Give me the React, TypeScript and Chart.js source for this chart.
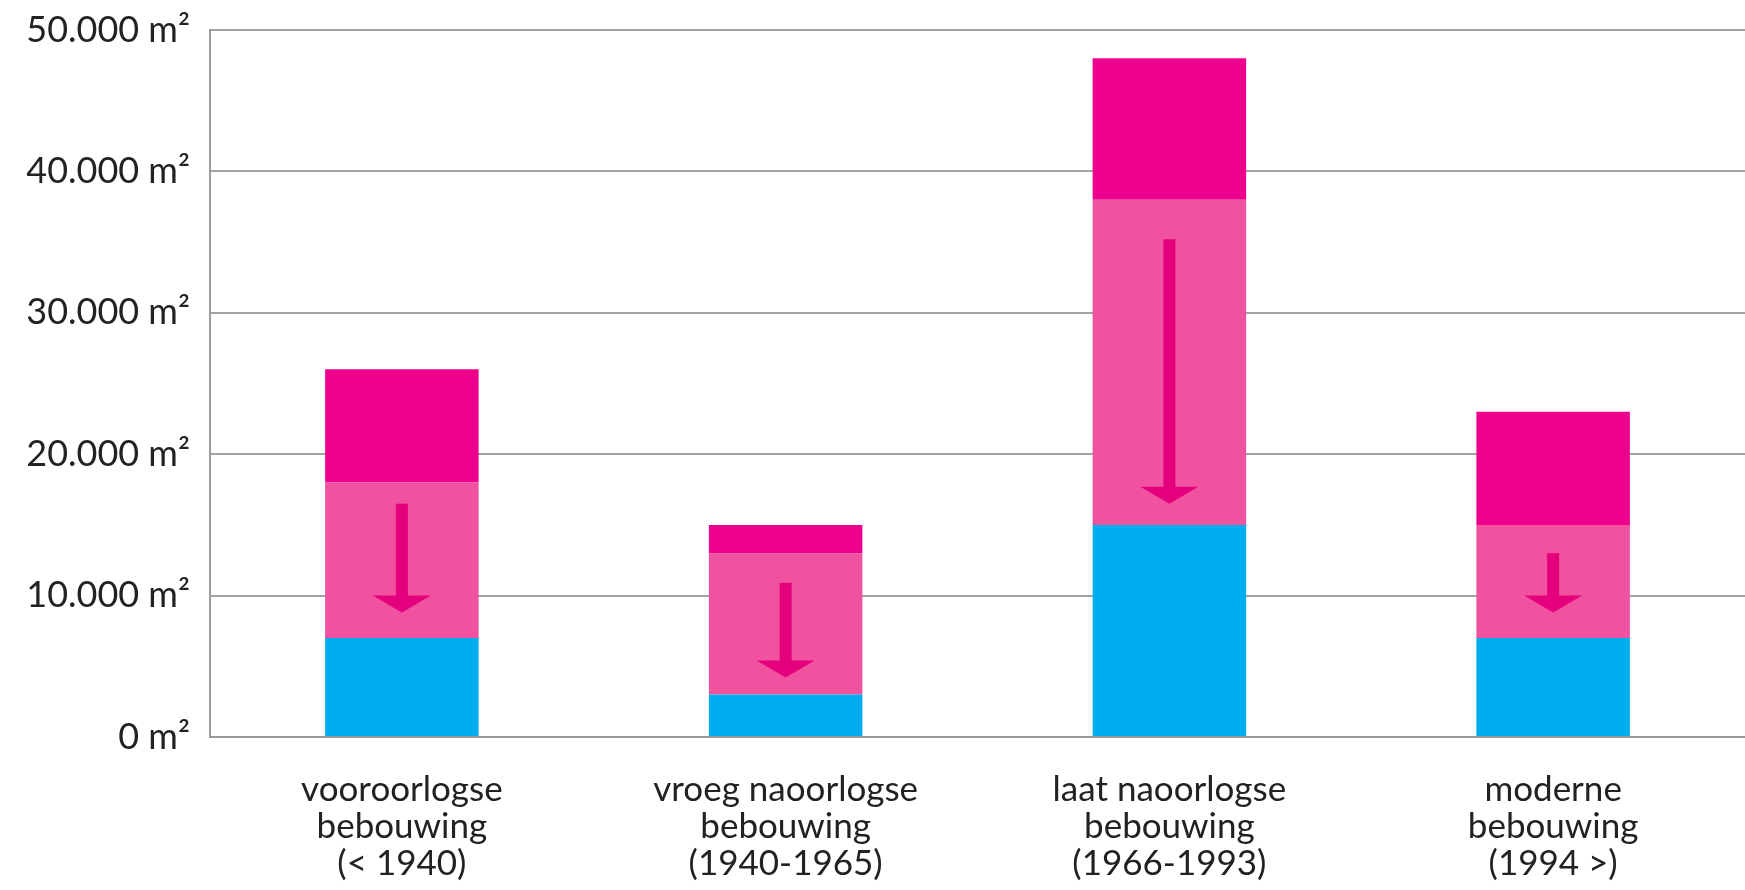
import React, { useEffect, useRef } from "react";
import { Chart, registerables } from "chart.js";

Chart.register(...registerables);

const categories: string[][] = [
  ["vooroorlogse", "bebouwing", "(< 1940)"],
  ["vroeg naoorlogse", "bebouwing", "(1940-1965)"],
  ["laat naoorlogse", "bebouwing", "(1966-1993)"],
  ["moderne", "bebouwing", "(1994 >)"],
];

const blueValues = [7000, 3000, 15000, 7000];
const pinkValues = [11000, 10000, 23000, 8000];
const magentaValues = [8000, 2000, 10000, 8000];

const arrowFrom = [16500, 10900, 35200, 13000];
const arrowTo = [8800, 4200, 16500, 8800];

const yMax = 50000;
const yStep = 10000;

const FONT = "Lato, 'Open Sans', sans-serif";

function formatTick(v: number): string {
  const s = Math.round(v).toString().replace(/\B(?=(\d{3})+(?!\d))/g, ".");
  return s + " m\u00B2";
}

const arrowPlugin = {
  id: "arrows",
  afterDatasetsDraw(chart: any) {
    const ctx = chart.ctx;
    const xs = chart.scales.x;
    const ys = chart.scales.y;
    ctx.save();
    ctx.fillStyle = "#E4007C";
    for (let i = 0; i < arrowFrom.length; i++) {
      const cx = xs.getPixelForValue(i);
      const yTop = ys.getPixelForValue(arrowFrom[i]);
      const yTip = ys.getPixelForValue(arrowTo[i]);
      const headH = 17;
      const headW = 58;
      const shaftW = 12;
      ctx.fillRect(cx - shaftW / 2, yTop, shaftW, yTip - headH - yTop + 2);
      ctx.beginPath();
      ctx.moveTo(cx - headW / 2, yTip - headH);
      ctx.lineTo(cx + headW / 2, yTip - headH);
      ctx.lineTo(cx, yTip);
      ctx.closePath();
      ctx.fill();
    }
    ctx.restore();
  },
};

export default function App() {
  const canvasRef = useRef<HTMLCanvasElement | null>(null);

  useEffect(() => {
    if (!canvasRef.current) return;
    const chart = new Chart(canvasRef.current, {
      type: "bar",
      data: {
        labels: categories,
        datasets: [
          { label: "blue", data: blueValues, backgroundColor: "#00AEEF" },
          { label: "pink", data: pinkValues, backgroundColor: "#F0529F" },
          { label: "magenta", data: magentaValues, backgroundColor: "#EC008C" },
        ],
      },
      options: {
        animation: false,
        responsive: true,
        maintainAspectRatio: false,
        layout: { padding: { top: 30, right: 0, left: 0, bottom: 0 } },
        plugins: {
          legend: { display: false },
          tooltip: { enabled: false },
        },
        datasets: {
          bar: { categoryPercentage: 1, barPercentage: 0.4 },
        },
        scales: {
          x: {
            stacked: true,
            grid: { display: false, drawTicks: false },
            border: { display: true, color: "#9a9a9a", width: 2 },
            ticks: {
              color: "#222",
              font: { family: FONT, size: 35, lineHeight: 1.06 },
              padding: 34,
              maxRotation: 0,
              autoSkip: false,
            },
            afterFit(scale: any) {
              scale.height = 153;
            },
          },
          y: {
            stacked: true,
            min: 0,
            max: yMax,
            grid: { color: "#a3a3a3", lineWidth: 2, drawTicks: false },
            border: { display: true, color: "#9a9a9a", width: 2 },
            ticks: {
              stepSize: yStep,
              color: "#222",
              font: { family: FONT, size: 36 },
              padding: 20,
              callback: (v: any) => formatTick(Number(v)),
            },
            afterFit(scale: any) {
              scale.width = 210;
              scale.paddingTop = 0;
              scale.paddingBottom = 0;
            },
          },
        },
      },
      plugins: [arrowPlugin],
    });
    return () => chart.destroy();
  }, []);

  return (
    <div
      style={{
        position: "fixed",
        left: 0,
        top: 0,
        width: 1745,
        height: 890,
        background: "#fff",
      }}
    >
      <canvas ref={canvasRef} />
    </div>
  );
}
